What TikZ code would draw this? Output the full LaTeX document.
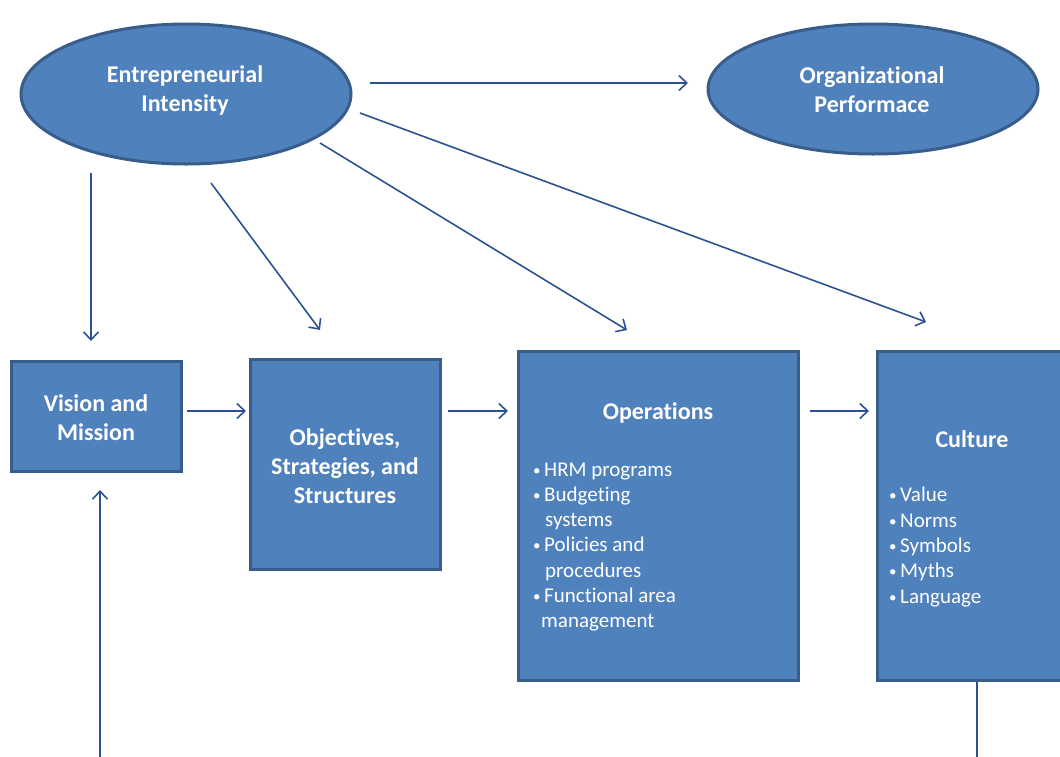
\documentclass[tikz,border=0pt]{standalone}
\usepackage{fontspec}
\setmainfont{Carlito}[Ligatures=NoCommon]
\usetikzlibrary{arrows.meta,shapes.geometric}
\definecolor{boxfill}{HTML}{4F81BD}
\definecolor{boxline}{HTML}{385D8A}
\definecolor{arrowcol}{HTML}{2C5391}
\newcommand\bul{\makebox[12pt][l]{\hspace{1pt}\raisebox{1pt}{\fontsize{15}{15}\selectfont•}}}
\newcommand\ind{\hspace*{13pt}}
\tikzset{
  shapebox/.style={draw=boxline,fill=boxfill,line width=3pt,inner sep=0pt},
  ell/.style={shapebox,ellipse},
  rbox/.style={shapebox,rectangle},
  title/.style={text=white,font=\fontsize{24}{29}\selectfont\bfseries,align=center,inner sep=0pt},
  blist/.style={text=white,font=\fontsize{21}{25.3}\selectfont,align=left,inner sep=0pt,anchor=west},
  conn/.style={draw=arrowcol,line width=1.6pt,-{Straight Barb[length=8pt,width=15pt,line width=1.6pt]}},
  plainline/.style={draw=arrowcol,line width=1.6pt},
}
\begin{document}
\begin{tikzpicture}[x=1pt,y=-1pt]
\useasboundingbox (0,0) rectangle (1060,756);
\begin{scope}
\clip (0,0) rectangle (1060,756);
% ellipses
\node[ell,minimum width=330pt,minimum height=140pt] (ei) at (186,94) {};
\node[title] (eit) at (185,90) {Entrepreneurial\\Intensity};
\node[ell,minimum width=330pt,minimum height=130pt] (op) at (873,89) {};
\node[title] (opt) at (872,90) {Organizational\\Performace};
% boxes
\node[rbox,minimum width=170pt,minimum height=110pt] (vm) at (96,416) {};
\node[title] (vmt) at (96,418) {Vision and\\Mission};
\node[rbox,minimum width=190pt,minimum height=210pt] (os) at (345,464) {};
\node[title] (ost) at (345,466) {Objectives,\\Strategies, and\\Structures};
\node[rbox,minimum width=280pt,minimum height=329pt] (opr) at (658,515.5) {};
\node[title] (oprt) at (658,413) {Operations};
\node[blist] (oprl) at (532,547) {\bul HRM programs\\\bul Budgeting\\\ind systems\\\bul Policies and\\\ind procedures\\\bul Functional area\\\hspace*{9pt}management};
\node[rbox,minimum width=190pt,minimum height=329pt] (cu) at (972,515.5) {};
\node[title] (cut) at (972,439) {Culture};
\node[blist] (cul) at (888,547) {\bul Value\\\bul Norms\\\bul Symbols\\\bul Myths\\\bul Language};
% free ends
\coordinate (a1s) at (370,83);  \coordinate (a1e) at (688,83);
\coordinate (a2s) at (91,173);  \coordinate (a2e) at (91,341);
\coordinate (a3s) at (211,183); \coordinate (a3e) at (320,330);
\coordinate (a4s) at (320,143); \coordinate (a4e) at (627,330);
\coordinate (a5s) at (360,113); \coordinate (a5e) at (926,322);
\coordinate (b1s) at (187,411); \coordinate (b1e) at (246,411);
\coordinate (b2s) at (448,411); \coordinate (b2e) at (508,411);
\coordinate (b3s) at (810,411); \coordinate (b3e) at (869,411);
\coordinate (upS) at (100,758); \coordinate (upE) at (100,490);
\coordinate (dnE) at (977,758);
\draw[conn] (a1s) -- (a1e);
\draw[conn] (a2s) -- (a2e);
\draw[conn] (a3s) -- (a3e);
\draw[conn] (a4s) -- (a4e);
\draw[conn] (a5s) -- (a5e);
\draw[conn] (b1s) -- (b1e);
\draw[conn] (b2s) -- (b2e);
\draw[conn] (b3s) -- (b3e);
\draw[conn] (upS) -- (upE);
\draw[plainline] (cu.south -| dnE) -- (dnE);
\end{scope}
\end{tikzpicture}
\end{document}
